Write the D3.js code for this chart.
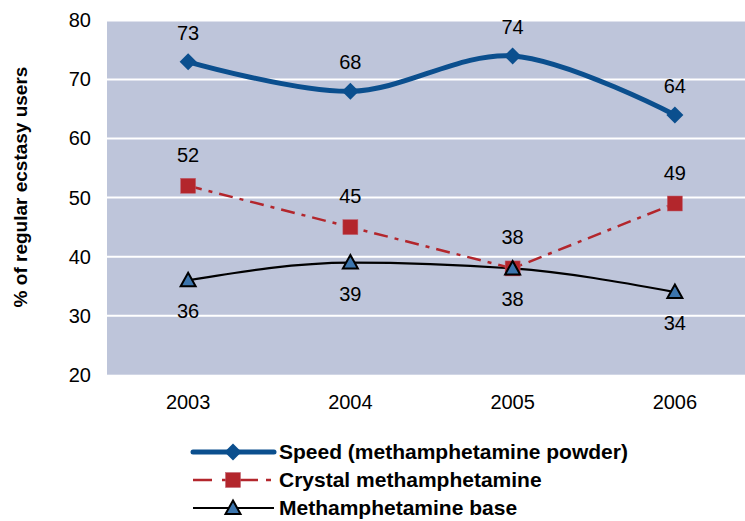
<!DOCTYPE html>
<html><head><meta charset="utf-8">
<script src="https://cdn.jsdelivr.net/npm/d3@7"></script>
<style>body{margin:0;background:#fff;}svg{display:block;font-family:"Liberation Sans",Arial,sans-serif;}</style>
</head><body><svg id="c" width="745" height="521"></svg>
<script>
const years = ["2003","2004","2005","2006"];
const speed = [73,68,74,64];
const crystal = [52,45,38,49];
const base = [36,39,38,34];
const yTicks = [20,30,40,50,60,70,80];
const seriesNames = ["Speed (methamphetamine powder)","Crystal methamphetamine","Methamphetamine base"];

const svg = d3.select("#c");
const L = 107, T = 20.5, W = 649, H = 354.2;
const x = d3.scaleBand().domain(years).range([L, L+W]);
const xc = d => x(d) + x.bandwidth()/2;
const y = d3.scaleLinear().domain([20,80]).range([T+H, T]);

svg.append("rect").attr("x",L).attr("y",T).attr("width",W).attr("height",H).attr("fill","#bec5da");
svg.append("g").selectAll("line").data(yTicks.filter(v=>v>20)).join("line")
  .attr("x1",L).attr("x2",L+W).attr("y1",d=>y(d)).attr("y2",d=>y(d))
  .attr("stroke","#fff").attr("stroke-width",2);

const yAxis = svg.append("g").attr("transform",`translate(${L},0)`)
  .call(d3.axisLeft(y).tickValues(yTicks).tickSize(0).tickPadding(16));
yAxis.select(".domain").remove();
yAxis.selectAll("text").attr("font-size",20).attr("fill","#000").attr("font-family","Liberation Sans, Arial, sans-serif");

const xAxis = svg.append("g").attr("transform",`translate(0,${T+H})`)
  .call(d3.axisBottom(x).tickSize(0).tickPadding(20));
xAxis.select(".domain").remove();
xAxis.selectAll("text").attr("font-size",20).attr("fill","#000").attr("font-family","Liberation Sans, Arial, sans-serif");

svg.append("text").attr("transform","translate(27,187) rotate(-90)").attr("text-anchor","middle")
  .attr("font-size",19).attr("font-weight","bold").text("% of regular ecstasy users");

const blue = "#0b4f8e", red = "#b3262c", triFill = "#3c75ad";
const smooth = d3.line().x((d,i)=>xc(years[i])).y(d=>y(d)).curve(d3.curveCatmullRom.alpha(0.5));
const smoothBase = d3.line().x((d,i)=>xc(years[i])).y(d=>y(d)).curve(d3.curveMonotoneX);
const straight = d3.line().x((d,i)=>xc(years[i])).y(d=>y(d));

svg.append("path").attr("d",smoothBase(base)).attr("fill","none").attr("stroke","#000").attr("stroke-width",2.2);
svg.append("path").attr("d",straight(crystal)).attr("fill","none").attr("stroke",red).attr("stroke-width",2.5).attr("stroke-dasharray","14,7,4,7");
svg.append("path").attr("d",smooth(speed)).attr("fill","none").attr("stroke",blue).attr("stroke-width",5);

function drawDiamond(g, cx, cy){ g.append("path").attr("d",`M${cx},${cy-8.5}L${cx+8.5},${cy}L${cx},${cy+8.5}L${cx-8.5},${cy}Z`).attr("fill",blue); }
function drawSquare(g, cx, cy){ g.append("rect").attr("x",cx-7.5).attr("y",cy-7.5).attr("width",15).attr("height",15).attr("fill",red).attr("stroke","#c06070").attr("stroke-width",0.5); }
function drawTri(g, cx, cy){ g.append("path").attr("d",`M${cx},${cy-7.5}L${cx+7.5},${cy+6}L${cx-7.5},${cy+6}Z`).attr("fill",triFill).attr("stroke","#000").attr("stroke-width",2); }

const mk = svg.append("g");
crystal.forEach((v,i)=>drawSquare(mk, xc(years[i]), y(v)));
base.forEach((v,i)=>drawTri(mk, xc(years[i]), y(v)));
speed.forEach((v,i)=>drawDiamond(mk, xc(years[i]), y(v)));

const lab = svg.append("g").attr("font-size",20).attr("text-anchor","middle").attr("fill","#000");
speed.forEach((v,i)=>lab.append("text").attr("x",xc(years[i])).attr("y",y(v)-29).attr("dy","0.35em").text(v));
crystal.forEach((v,i)=>lab.append("text").attr("x",xc(years[i])).attr("y",y(v)-31).attr("dy","0.35em").text(v));
base.forEach((v,i)=>lab.append("text").attr("x",xc(years[i])).attr("y",y(v)+31).attr("dy","0.35em").text(v));

const lg = svg.append("g");
const lmid = 233, rows = [452,480,508];
lg.append("line").attr("x1",193).attr("x2",274).attr("y1",rows[0]).attr("y2",rows[0]).attr("stroke",blue).attr("stroke-width",5).attr("stroke-linecap","round");
drawDiamond(lg, lmid, rows[0]);
lg.append("line").attr("x1",193).attr("x2",271).attr("y1",rows[1]).attr("y2",rows[1]).attr("stroke",red).attr("stroke-width",2.5).attr("stroke-dasharray","19,10,36,8,5,100");
drawSquare(lg, lmid, rows[1]);
lg.append("line").attr("x1",193).attr("x2",274).attr("y1",rows[2]).attr("y2",rows[2]).attr("stroke","#000").attr("stroke-width",2.2);
drawTri(lg, lmid, rows[2]);
seriesNames.forEach((n,i)=>lg.append("text").attr("x",279).attr("y",rows[i]).attr("dy","0.35em")
  .attr("font-size",21).attr("font-weight","bold").text(n));
</script></body></html>
